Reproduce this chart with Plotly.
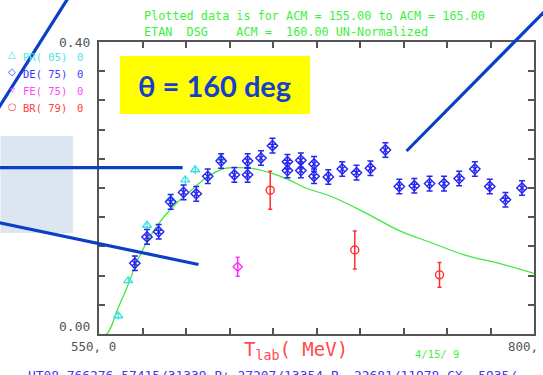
import plotly.graph_objects as go

# ---------------- data ----------------
curve_T = [550.0, 554.4, 561.0, 565.8, 573.5, 583.0, 592.3, 602.1, 611.6, 620.9, 630.7, 640.2,
           649.5, 659.3, 668.8, 683.9, 703.1, 722.2, 741.1, 760.4, 779.4, 800.0]
curve_v = [0.000, 0.000, 0.036, 0.062, 0.108, 0.147, 0.174, 0.195, 0.214, 0.226, 0.228, 0.226,
           0.220, 0.211, 0.200, 0.188, 0.166, 0.142, 0.125, 0.108, 0.097, 0.083]

pr_T = [561.0, 566.8, 577.6, 591.2, 599.6, 605.3, 620.2]
pr_v = [0.025, 0.073, 0.149, 0.185, 0.211, 0.225, 0.241]
pr_e = [0.005, 0.005, 0.006, 0.006, 0.006, 0.006, 0.007]

de_T = [570.6, 577.6, 584.3, 591.2, 598.6, 605.9, 612.5, 620.2, 627.8, 635.4, 635.4, 643.1,
        649.7, 658.3, 658.3, 666.0, 666.0, 673.6, 673.6, 681.8, 689.8, 698.0, 706.0, 714.6,
        722.6, 731.2, 740.0, 748.3, 757.0, 766.0, 774.6, 783.6, 793.1]
de_v = [0.097, 0.133, 0.140, 0.181, 0.194, 0.192, 0.216, 0.237, 0.218, 0.237, 0.218, 0.241,
        0.258, 0.236, 0.224, 0.238, 0.224, 0.233, 0.216, 0.215, 0.226, 0.221, 0.227, 0.252,
        0.202, 0.203, 0.206, 0.206, 0.213, 0.226, 0.202, 0.184, 0.200]
de_e = [0.010] * len(de_T)

fe_T = [629.7]
fe_v = [0.092]
fe_e = [0.013]

br_T = [648.4, 697.0, 745.7]
br_v = [0.197, 0.115, 0.081]
br_e = [0.026, 0.026, 0.017]

x_ticks = [550, 575, 600, 625, 650, 675, 700, 725, 750, 775, 800]
y_ticks = [0.00, 0.04, 0.08, 0.12, 0.16, 0.20, 0.24, 0.28, 0.32, 0.36, 0.40]

legend_names = ["PR( 05)", "DE( 75)", "FE( 75)", "BR( 79)"]
legend_syms = ["△", "◇", "▿", "○"]
legend_cols = ["#45e6e6", "#3a3aff", "#ff45ff", "#ff4040"]

title1 = "Plotted data is for ACM = 155.00 to ACM = 165.00"
title2 = "ETAN  DSG    ACM =  160.00 UN-Normalized"
footer = "UT08 766276 57415/31339 P+=27207/13354 P-=22681/11978 CX= 5935/"

# ---------------- layout helpers ----------------
W, H = 543, 375
L, R, T, B = 99, 536, 42, 334


def px(x):
    return (x - L) / (R - L)


def py(y):
    return (B - y) / (B - T)


MONO = "DejaVu Sans Mono"

fig = go.Figure()

fig.add_trace(go.Scatter(x=curve_T, y=curve_v, mode="lines",
                         line=dict(color="#3ee83e", width=1.3, shape="spline"),
                         hoverinfo="skip", cliponaxis=False))

fig.add_trace(go.Scatter(x=pr_T, y=pr_v, mode="markers",
                         marker=dict(symbol="triangle-up-open", size=8, color="#38e0e0",
                                     line=dict(width=1.3)),
                         error_y=dict(type="data", array=pr_e, color="#38e0e0", thickness=1.2, width=0)))

fig.add_trace(go.Scatter(x=de_T, y=de_v, mode="markers",
                         marker=dict(symbol="diamond-x-open", size=8, color="#2626f0",
                                     line=dict(width=1.4)),
                         error_y=dict(type="data", array=de_e, color="#2626f0", thickness=1.5, width=3)))

fig.add_trace(go.Scatter(x=fe_T, y=fe_v, mode="markers",
                         marker=dict(symbol="diamond-open", size=7, color="#ff30ff",
                                     line=dict(width=1.4)),
                         error_y=dict(type="data", array=fe_e, color="#ff30ff", thickness=1.5, width=2)))

fig.add_trace(go.Scatter(x=br_T, y=br_v, mode="markers",
                         marker=dict(symbol="circle-open", size=8, color="#ff3030",
                                     line=dict(width=1.4)),
                         error_y=dict(type="data", array=br_e, color="#ff3030", thickness=1.5, width=2)))

ann = []
# title lines
ann.append(dict(x=px(142), y=py(16), xref="paper", yref="paper", xanchor="left", yanchor="middle",
                text=title1, showarrow=False, font=dict(family=MONO, size=11.8, color="#3ef03e")))
ann.append(dict(x=px(142), y=py(32), xref="paper", yref="paper", xanchor="left", yanchor="middle",
                text=title2, showarrow=False, font=dict(family=MONO, size=11.8, color="#3ef03e")))
# y tick labels
ann.append(dict(x=550, y=0.40, xref="x", yref="y", xanchor="right", yanchor="middle", xshift=-7,
                text="0.40", showarrow=False, font=dict(family=MONO, size=13, color="#555555")))
ann.append(dict(x=550, y=0.00, xref="x", yref="y", xanchor="right", yanchor="middle", xshift=-7, yshift=8,
                text="0.00", showarrow=False, font=dict(family=MONO, size=13, color="#555555")))
# x tick labels
ann.append(dict(x=550, y=0.00, xref="x", yref="y", xanchor="center", yanchor="middle", xshift=-6, yshift=-12,
                text="550, 0", showarrow=False, font=dict(family=MONO, size=12.5, color="#555555")))
ann.append(dict(x=800, y=0.00, xref="x", yref="y", xanchor="center", yanchor="middle", xshift=-4, yshift=-12,
                text="800, 0", showarrow=False, font=dict(family=MONO, size=12.5, color="#555555")))
# axis title
ann.append(dict(x=px(297), y=py(350), xref="paper", yref="paper", xanchor="center", yanchor="middle",
                text="T<sub>lab</sub>( MeV)", showarrow=False,
                font=dict(family=MONO, size=19, color="#ff4a4a")))
# date
ann.append(dict(x=px(414), y=py(354), xref="paper", yref="paper", xanchor="left", yanchor="middle",
                text="4/15/ 9", showarrow=False, font=dict(family=MONO, size=10.5, color="#3ef03e")))
# footer
ann.append(dict(x=px(26), y=py(375), xref="paper", yref="paper", xanchor="left", yanchor="middle",
                text=footer, showarrow=False, font=dict(family=MONO, size=12.9, color="#3a3aff")))
# legend
rows = [57, 74, 91, 108]
for name, sym, col, yy in zip(legend_names, legend_syms, legend_cols, rows):
    ann.append(dict(x=px(12), y=py(yy - 2), xref="paper", yref="paper", xanchor="center", yanchor="middle",
                    text=sym, showarrow=False, font=dict(family="DejaVu Sans", size=10, color=col)))
    ann.append(dict(x=px(21), y=py(yy), xref="paper", yref="paper", xanchor="left", yanchor="middle",
                    text=name, showarrow=False, font=dict(family=MONO, size=10.5, color=col)))
    ann.append(dict(x=px(80), y=py(yy), xref="paper", yref="paper", xanchor="center", yanchor="middle",
                    text="0", showarrow=False, font=dict(family=MONO, size=10.5, color=col)))
# theta box text
ann.append(dict(x=px(215), y=py(85), xref="paper", yref="paper", xanchor="center", yanchor="middle",
                text="<b>θ = 160 deg</b>", showarrow=False,
                font=dict(family="Lato", size=29, color="#1640c8")))

BLUE = "#0b3fc6"
shapes = [
    dict(type="rect", xref="paper", yref="paper", x0=px(0), x1=px(73), y0=py(136), y1=py(233),
         fillcolor="#dce6f1", line=dict(width=0), layer="above"),
    dict(type="rect", xref="paper", yref="paper", x0=px(120), x1=px(311), y0=py(56), y1=py(114),
         fillcolor="#ffff00", line=dict(width=0), layer="above"),
    dict(type="line", xref="paper", yref="paper", x0=px(-5), y0=py(113), x1=px(68), y1=py(-2),
         line=dict(color=BLUE, width=3.2), layer="above"),
    dict(type="line", xref="paper", yref="paper", x0=px(408), y0=py(151), x1=px(548), y1=py(10),
         line=dict(color=BLUE, width=3.2), layer="above"),
    dict(type="line", xref="paper", yref="paper", x0=px(-5), y0=py(167.7), x1=px(183), y1=py(167.7),
         line=dict(color=BLUE, width=3.2), layer="above"),
    dict(type="line", xref="paper", yref="paper", x0=px(-5), y0=py(222), x1=px(199), y1=py(264.5),
         line=dict(color=BLUE, width=3.2), layer="above"),
]

axis_common = dict(showgrid=False, zeroline=False, showline=True, linecolor="#555555", linewidth=2,
                   mirror="ticks", ticks="inside", ticklen=6, tickwidth=1.5, tickcolor="#555555",
                   showticklabels=False, fixedrange=True)

fig.update_layout(
    width=W, height=H, autosize=False,
    margin=dict(l=L, r=W - R, t=T, b=H - B, pad=0),
    paper_bgcolor="white", plot_bgcolor="white",
    showlegend=False,
    xaxis=dict(range=[550, 800], tickvals=x_ticks, **axis_common),
    yaxis=dict(range=[0, 0.40], tickvals=y_ticks, **axis_common),
    annotations=ann,
    shapes=shapes,
)

fig.write_html("out.html")
